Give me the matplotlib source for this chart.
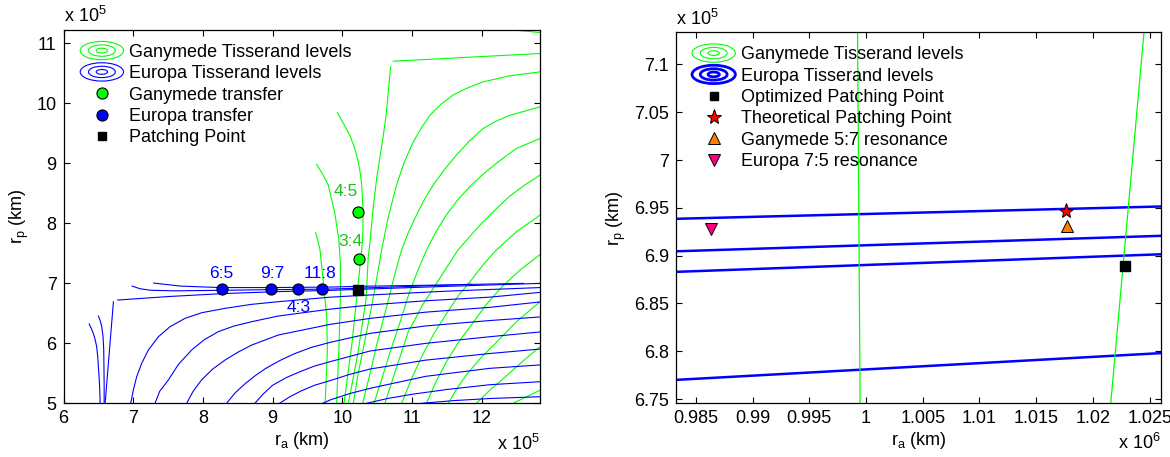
import numpy as np
import matplotlib
matplotlib.use("Agg")
import matplotlib.pyplot as plt
import matplotlib.ticker as ticker
from matplotlib.lines import Line2D
from matplotlib.patches import Ellipse
from matplotlib.legend_handler import HandlerBase

plt.rcParams['font.family'] = ['Liberation Sans', 'DejaVu Sans']
FS = 13

# --- Data, left panel (ra, rp in units of 1e5 km) ---
ganymede_levels = [
    [(9.62, 7.85), (9.682, 7.555), (9.73, 7.0), (9.778, 6.444), (9.787, 5.888), (9.768, 5.333), (9.754, 5.0)],
    [(9.634, 8.983), (9.72, 8.82), (9.80, 8.638), (9.89, 8.194), (9.95, 7.75), (9.975, 7.3), (9.975, 6.8),
     (9.955, 6.0), (9.92, 5.0)],
    [(9.93, 9.85), (10.02, 9.66), (10.11, 9.47), (10.18, 9.25), (10.23, 9.03), (10.26, 8.83), (10.28, 8.64),
     (10.30, 8.2), (10.295, 7.8), (10.28, 7.555), (10.22, 6.9), (10.14, 6.0), (10.026, 5.0)],
    [(10.694, 10.61), (10.63, 9.8), (10.58, 9.388), (10.50, 8.8), (10.446, 8.277), (10.40, 7.7), (10.374, 7.44),
     (10.341, 6.722), (10.22, 5.8), (10.088, 5.0)],
    [(10.732, 10.705), (11.8, 10.77), (12.84, 10.833)],
    [(10.159, 5.0), (10.23, 5.5), (10.3, 5.9), (10.36, 6.25), (10.42, 6.6), (10.49, 7.05), (10.565, 7.555),
     (10.66, 8.1), (10.78, 8.64), (10.89, 9.02), (11.02, 9.36), (11.14, 9.6), (11.26, 9.805), (11.42, 9.99),
     (11.59, 10.14), (11.8, 10.26), (12.02, 10.36), (12.4, 10.46), (12.84, 10.527)],
    [(10.293, 5.0), (10.4, 5.5), (10.5, 6.0), (10.59, 6.4), (10.68, 6.8), (10.76, 7.18), (10.852, 7.555),
     (10.95, 7.85), (11.05, 8.1), (11.17, 8.38), (11.305, 8.64), (11.47, 8.9), (11.64, 9.14), (11.83, 9.38),
     (12.02, 9.58), (12.2, 9.7), (12.4, 9.80), (12.84, 9.944)],
    [(10.455, 5.0), (10.58, 5.45), (10.7, 5.9), (10.83, 6.35), (10.95, 6.8), (11.08, 7.2), (11.21, 7.555),
     (11.35, 7.87), (11.5, 8.15), (11.67, 8.41), (11.855, 8.64), (12.03, 8.83), (12.21, 9.0), (12.50, 9.25),
     (12.84, 9.416)],
    [(10.613, 5.0), (10.78, 5.6), (10.95, 6.2), (11.16, 6.65), (11.38, 7.05), (11.66, 7.555), (11.83, 7.78),
     (12.0, 8.0), (12.2, 8.23), (12.4, 8.45), (12.62, 8.64), (12.84, 8.805)],
    [(10.852, 5.0), (11.0, 5.42), (11.15, 5.8), (11.32, 6.17), (11.5, 6.5), (11.67, 6.8), (11.85, 7.05),
     (12.03, 7.32), (12.21, 7.555), (12.5, 7.86), (12.84, 8.138)],
    [(11.21, 5.0), (11.35, 5.37), (11.5, 5.7), (11.67, 6.02), (11.85, 6.3), (12.07, 6.65), (12.3, 6.95),
     (12.56, 7.23), (12.84, 7.48)],
    [(11.52, 5.0), (11.66, 5.27), (11.8, 5.5), (12.0, 5.77), (12.2, 6.0), (12.5, 6.36), (12.84, 6.694)],
    [(11.926, 5.0), (12.13, 5.23), (12.35, 5.45), (12.6, 5.71), (12.84, 5.944)],
    [(12.45, 5.0), (12.65, 5.11), (12.84, 5.22)],
    [(12.40, 11.23), (12.84, 11.183)],
]

europa_levels = [
    [(6.368, 6.322), (6.41, 6.22), (6.444, 6.11), (6.475, 5.95), (6.491, 5.777), (6.516, 5.333), (6.526, 5.0)],
    [(6.501, 6.455), (6.528, 6.37), (6.549, 6.277), (6.568, 6.1), (6.577, 5.888), (6.583, 5.333), (6.583, 5.0)],
    [(6.597, 5.0), (6.716, 6.693)],
    [(6.778, 6.722), (7.5, 6.78), (8.3, 6.83), (9.08, 6.862), (9.83, 6.883), (10.26, 6.901), (11.5, 6.95),
     (12.84, 7.0)],
    [(6.984, 6.955), (7.1, 6.91), (7.25, 6.885), (7.6, 6.875), (8.3, 6.885), (9.0, 6.895), (9.83, 6.905),
     (10.26, 6.921), (11.0, 6.95), (11.85, 6.985)],
    [(7.294, 7.005), (7.676, 6.955), (8.25, 6.93), (9.0, 6.93), (9.83, 6.9385), (10.26, 6.951), (11.4, 6.972),
     (12.6, 7.0)],
    [(6.964, 5.0), (7.002, 5.222), (7.05, 5.444), (7.122, 5.667), (7.217, 5.888), (7.361, 6.11), (7.528, 6.277),
     (7.743, 6.416), (7.982, 6.51), (8.316, 6.583), (8.698, 6.65), (9.08, 6.694), (9.83, 6.77), (10.26, 6.798),
     (11.5, 6.87), (12.84, 6.93)],
    [(7.313, 5.0), (7.38, 5.2), (7.504, 5.388), (7.65, 5.65), (7.838, 5.888), (8.02, 6.06), (8.22, 6.194),
     (8.45, 6.29), (8.698, 6.36), (9.08, 6.455), (9.825, 6.57), (10.4, 6.64), (11.2, 6.71), (12.117, 6.77),
     (12.84, 6.85)],
    [(7.767, 5.0), (7.86, 5.2), (7.98, 5.388), (8.14, 5.57), (8.316, 5.72), (8.5, 5.85), (8.698, 5.97),
     (9.08, 6.138), (9.825, 6.316), (10.4, 6.416), (11.2, 6.52), (12.117, 6.6), (12.84, 6.69)],
    [(8.34, 5.0), (8.46, 5.17), (8.6, 5.32), (8.75, 5.46), (8.9, 5.58), (9.1, 5.71), (9.3, 5.82), (9.55, 5.93),
     (9.825, 6.016), (10.4, 6.166), (11.2, 6.29), (12.117, 6.38), (12.84, 6.44)],
    [(8.745, 5.0), (8.87, 5.16), (9.0, 5.3), (9.2, 5.43), (9.4, 5.53), (9.6, 5.62), (9.825, 5.694), (10.4, 5.872),
     (11.2, 6.0), (12.117, 6.11), (12.84, 6.19)],
    [(9.1, 5.0), (9.25, 5.11), (9.4, 5.2), (9.6, 5.3), (9.825, 5.378), (10.1, 5.48), (10.4, 5.572), (11.2, 5.72),
     (12.117, 5.83), (12.84, 5.905)],
    [(9.72, 5.0), (9.825, 5.055), (10.1, 5.16), (10.4, 5.25), (11.2, 5.45), (12.117, 5.583), (12.84, 5.64)],
    [(10.35, 5.0), (10.65, 5.08), (11.0, 5.15), (11.5, 5.23), (12.117, 5.31), (12.84, 5.36)],
    [(11.14, 5.0), (11.6, 5.045), (12.117, 5.08), (12.84, 5.11)],
]

europa_ra = [8.28, 8.98, 9.37, 9.715]
europa_rp = [6.9, 6.9, 6.9, 6.9]
europa_res = ["6:5", "9:7", "4:3", "11:8"]
europa_lbl_x = [8.26, 8.99, 9.37, 9.68]
europa_lbl_y = [7.16, 7.16, 6.605, 7.16]

ganymede_ra = [10.23, 10.235]
ganymede_rp = [8.19, 7.40]
ganymede_res = ["4:5", "3:4"]
ganymede_lbl_x = [10.05, 10.12]
ganymede_lbl_y = [8.53, 7.69]

patch_ra, patch_rp = 10.23, 6.895

# --- Data, right panel (ra in 1e6 km, rp in 1e5 km) ---
zoom_edge_ra = [0.98325, 1.026]
europa_zoom_rp = [[6.9385, 6.9514], [6.9045, 6.9207], [6.883, 6.9014], [6.770, 6.798]]
ganymede_zoom = [[(0.99925, 7.14), (0.99948, 6.74)], [(1.02455, 7.14), (1.02153, 6.74)]]

opt_patch = (1.02285, 6.889)
theo_patch = (1.01762, 6.9465)
ganymede_57 = (1.0177, 6.9315)
europa_75 = (0.98631, 6.928)

GREEN = '#00FF00'
BLUE = '#0000FF'


class HandlerContour(HandlerBase):
    """Legend icon made of concentric ellipses, like MATLAB contour legends."""
    def __init__(self, color, lw):
        super().__init__()
        self.color = color
        self.lw = lw

    def create_artists(self, legend, orig_handle, xdescent, ydescent, width, height, fontsize, trans):
        cx = 0.5 * width - xdescent
        cy = 0.5 * height - ydescent
        arts = []
        for f in (1.0, 0.62, 0.26):
            arts.append(Ellipse((cx, cy), width * f, height * 1.45 * f, fill=False,
                                edgecolor=self.color, lw=self.lw, transform=trans))
        return arts


def style_axes(ax):
    ax.tick_params(direction='in', top=True, right=True, length=4, width=0.8,
                   labelsize=FS, pad=5)
    for s in ax.spines.values():
        s.set_linewidth(0.9)
    fmt = ticker.FuncFormatter(lambda v, _: f"{v:g}")
    ax.xaxis.set_major_formatter(fmt)
    ax.yaxis.set_major_formatter(fmt)
    ax.set_xlabel(r'$\mathregular{r_a}$ (km)', fontsize=FS, labelpad=2)
    ax.set_ylabel(r'$\mathregular{r_p}$ (km)', fontsize=FS, labelpad=4)


def add_exponents(ax, top, bottom):
    ax.text(0.0, 1.01, r'x 10$^{\mathregular{%d}}$' % top, transform=ax.transAxes,
            ha='left', va='bottom', fontsize=FS)
    ax.text(1.0, -0.135, r'x 10$^{\mathregular{%d}}$' % bottom, transform=ax.transAxes,
            ha='right', va='bottom', fontsize=FS)


fig = plt.figure(figsize=(11.7, 4.57), dpi=100)

# --- Left panel: full Tisserand map ---
ax1 = fig.add_axes([0.0543, 0.1175, 0.4073, 0.8175])
for curve in ganymede_levels:
    xs, ys = zip(*curve)
    ax1.plot(xs, ys, color=GREEN, lw=0.8)
for curve in europa_levels:
    xs, ys = zip(*curve)
    ax1.plot(xs, ys, color=BLUE, lw=0.8)

ax1.plot(ganymede_ra, ganymede_rp, 'o', ms=8, mfc=GREEN, mec='k', mew=0.8, zorder=5)
ax1.plot(europa_ra, europa_rp, 'o', ms=8, mfc=BLUE, mec='k', mew=0.8, zorder=5)
ax1.plot(patch_ra, patch_rp, 's', ms=7.5, color='k', zorder=5)

for t, x, y in zip(europa_res, europa_lbl_x, europa_lbl_y):
    ax1.text(x, y, t, color=BLUE, fontsize=12.5, ha='center', va='center')
for t, x, y in zip(ganymede_res, ganymede_lbl_x, ganymede_lbl_y):
    ax1.text(x, y, t, color='#1FC01F', fontsize=12.5, ha='center', va='center')

ax1.set_xlim(6, 12.84)
ax1.set_ylim(5, 11.23)
ax1.set_xticks(range(6, 13))
ax1.set_yticks(range(5, 12))
style_axes(ax1)
add_exponents(ax1, 5, 5)

g_proxy = Line2D([], [], color=GREEN)
e_proxy = Line2D([], [], color=BLUE)
h1 = [g_proxy, e_proxy,
      Line2D([], [], ls='none', marker='o', ms=8, mfc=GREEN, mec='k', mew=0.8),
      Line2D([], [], ls='none', marker='o', ms=8, mfc=BLUE, mec='k', mew=0.8),
      Line2D([], [], ls='none', marker='s', ms=6, color='k')]
l1 = ["Ganymede Tisserand levels", "Europa Tisserand levels", "Ganymede transfer",
      "Europa transfer", "Patching Point"]
ax1.legend(h1, l1, loc='upper left', bbox_to_anchor=(0.035, 0.962), frameon=False,
           fontsize=FS, handlelength=2.4, handletextpad=0.3, labelspacing=0.24,
           borderpad=0, borderaxespad=0,
           handler_map={g_proxy: HandlerContour(GREEN, 0.8), e_proxy: HandlerContour(BLUE, 0.8)})

# --- Right panel: zoom around the patching point ---
ax2 = fig.add_axes([0.5778, 0.1175, 0.4145, 0.8118])
for rp in europa_zoom_rp:
    ax2.plot(zoom_edge_ra, rp, color=BLUE, lw=1.8)
for curve in ganymede_zoom:
    xs, ys = zip(*curve)
    ax2.plot(xs, ys, color=GREEN, lw=0.9)

ax2.plot(*opt_patch, 's', ms=7, color='k', zorder=5)
ax2.plot(*theo_patch, '*', ms=11, mfc='#FF0000', mec='k', mew=0.7, zorder=5)
ax2.plot(*ganymede_57, '^', ms=8.5, mfc='#FF8000', mec='k', mew=0.7, zorder=5)
ax2.plot(*europa_75, 'v', ms=8.5, mfc='#FF0080', mec='k', mew=0.7, zorder=5)

ax2.set_xlim(0.98325, 1.026)
ax2.set_ylim(6.7455, 7.1336)
ax2.set_xticks(np.round(np.arange(0.985, 1.0251, 0.005), 3))
ax2.set_yticks(np.round(np.arange(6.75, 7.101, 0.05), 2))
style_axes(ax2)
add_exponents(ax2, 5, 6)

g2_proxy = Line2D([], [], color=GREEN)
e2_proxy = Line2D([], [], color=BLUE)
h2 = [g2_proxy, e2_proxy,
      Line2D([], [], ls='none', marker='s', ms=6, color='k'),
      Line2D([], [], ls='none', marker='*', ms=11, mfc='#FF0000', mec='k', mew=0.7),
      Line2D([], [], ls='none', marker='^', ms=8.5, mfc='#FF8000', mec='k', mew=0.7),
      Line2D([], [], ls='none', marker='v', ms=8.5, mfc='#FF0080', mec='k', mew=0.7)]
l2 = ["Ganymede Tisserand levels", "Europa Tisserand levels", "Optimized Patching Point",
      "Theoretical Patching Point", "Ganymede 5:7 resonance", "Europa 7:5 resonance"]
ax2.legend(h2, l2, loc='upper left', bbox_to_anchor=(0.033, 0.962), frameon=False,
           fontsize=FS, handlelength=2.4, handletextpad=0.3, labelspacing=0.24,
           borderpad=0, borderaxespad=0,
           handler_map={g2_proxy: HandlerContour(GREEN, 0.8), e2_proxy: HandlerContour(BLUE, 2.0)})

fig.savefig("out.png", dpi=100)
